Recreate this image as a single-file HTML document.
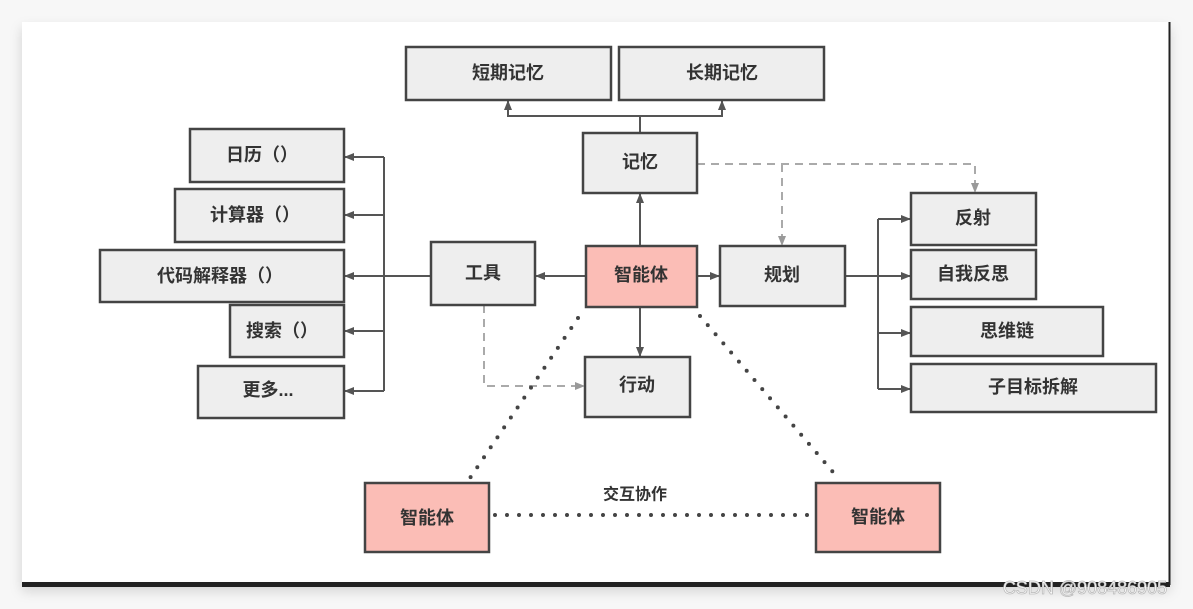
<!DOCTYPE html>
<html><head><meta charset="utf-8"><style>
html,body{margin:0;padding:0;background:#f7f7f7;}
svg{display:block;}
text{font-family:"Liberation Sans","Noto Sans CJK SC",sans-serif;font-size:18px;fill:#333;font-weight:bold;text-anchor:middle;dominant-baseline:central;}
</style></head><body>
<svg width="1193" height="609" viewBox="0 0 1193 609" xmlns="http://www.w3.org/2000/svg">
<defs>
<marker id="a" markerWidth="10" markerHeight="10" refX="9" refY="5" orient="auto" markerUnits="userSpaceOnUse"><path d="M0,1 L10,5 L0,9 z" fill="#555"/></marker>
<marker id="g" markerWidth="10" markerHeight="10" refX="9" refY="5" orient="auto" markerUnits="userSpaceOnUse"><path d="M0,1 L10,5 L0,9 z" fill="#999"/></marker>
<filter id="sh" x="-5%" y="-5%" width="110%" height="115%"><feDropShadow dx="0" dy="6" stdDeviation="6" flood-opacity="0.15"/></filter>
</defs>
<rect x="22" y="22" width="1148" height="563" fill="#fff" filter="url(#sh)"/>
<line x1="1169.5" y1="22" x2="1169.5" y2="585" stroke="#222" stroke-width="2"/>
<rect x="22" y="582" width="1148" height="5" fill="#222"/>
<g stroke="#555" stroke-width="2" fill="none">
<polyline points="640,133 640,116 508,116 508,101" marker-end="url(#a)"/>
<polyline points="640,116 722,116 722,101" marker-end="url(#a)"/>
<line x1="640" y1="246" x2="640" y2="194" marker-end="url(#a)"/>
<line x1="640" y1="307" x2="640" y2="356" marker-end="url(#a)"/>
<line x1="586" y1="276" x2="536" y2="276" marker-end="url(#a)"/>
<line x1="697" y1="276" x2="719" y2="276" marker-end="url(#a)"/>
<line x1="431" y1="276" x2="384" y2="276"/>
<line x1="384" y1="157" x2="384" y2="391"/>
<line x1="384" y1="157" x2="345" y2="157" marker-end="url(#a)"/>
<line x1="384" y1="215" x2="345" y2="215" marker-end="url(#a)"/>
<line x1="384" y1="276" x2="345" y2="276" marker-end="url(#a)"/>
<line x1="384" y1="331" x2="345" y2="331" marker-end="url(#a)"/>
<line x1="384" y1="391" x2="345" y2="391" marker-end="url(#a)"/>
<line x1="845" y1="276" x2="878" y2="276"/>
<line x1="878" y1="219" x2="878" y2="389"/>
<line x1="878" y1="219" x2="910" y2="219" marker-end="url(#a)"/>
<line x1="878" y1="276" x2="910" y2="276" marker-end="url(#a)"/>
<line x1="878" y1="333" x2="910" y2="333" marker-end="url(#a)"/>
<line x1="878" y1="389" x2="910" y2="389" marker-end="url(#a)"/>
</g>
<g stroke="#aaa" stroke-width="2" fill="none" stroke-dasharray="8,6">
<polyline points="697,164 975,164 975,192" marker-end="url(#g)"/>
<polyline points="782,164 782,245" marker-end="url(#g)"/>
<polyline points="484,305 484,386 584,386" marker-end="url(#g)"/>
</g>
<g stroke="#444" stroke-width="4" stroke-linecap="round" stroke-dasharray="0,12" fill="none">
<line x1="578" y1="318" x2="470" y2="478"/>
<line x1="700" y1="316" x2="838" y2="478"/>
<line x1="495" y1="515" x2="810" y2="515"/>
</g>
<g stroke="#444" stroke-width="2.5" fill="#eee">
<rect x="406" y="47" width="205" height="53"/>
<rect x="619" y="47" width="205" height="53"/>
<rect x="583" y="133" width="114" height="60"/>
<rect x="190" y="129" width="154" height="53"/>
<rect x="175" y="189" width="169" height="53"/>
<rect x="100" y="250" width="244" height="52"/>
<rect x="230" y="305" width="114" height="52"/>
<rect x="198" y="366" width="146" height="52"/>
<rect x="431" y="242" width="104" height="63"/>
<rect x="720" y="246" width="125" height="60"/>
<rect x="911" y="193" width="125" height="52"/>
<rect x="911" y="250" width="125" height="49"/>
<rect x="911" y="307" width="192" height="49"/>
<rect x="911" y="364" width="245" height="48"/>
<rect x="585" y="357" width="105" height="60"/>
<rect x="586" y="246" width="111" height="61" fill="#fbbdb6"/>
<rect x="365" y="483" width="124" height="69" fill="#fbbdb6"/>
<rect x="816" y="483" width="124" height="69" fill="#fbbdb6"/>
</g>
<text x="508" y="73">短期记忆</text>
<text x="722" y="73">长期记忆</text>
<text x="640" y="162">记忆</text>
<text x="262" y="155">日历（）</text>
<text x="255" y="215">计算器（）</text>
<text x="220" y="276">代码解释器（）</text>
<text x="282" y="331">搜索（）</text>
<text x="268" y="390">更多...</text>
<text x="483" y="273">工具</text>
<text x="641" y="275">智能体</text>
<text x="782" y="275">规划</text>
<text x="973" y="218">反射</text>
<text x="973" y="274">自我反思</text>
<text x="1007" y="331">思维链</text>
<text x="1033" y="387">子目标拆解</text>
<text x="637" y="385">行动</text>
<text x="427" y="518">智能体</text>
<text x="878" y="517">智能体</text>
<text x="635" y="495" style="font-size:16px">交互协作</text>
<text x="1085" y="588" style="font-size:18px;font-weight:normal;fill:#fff;stroke:#bbb;stroke-width:0.8">CSDN @908486905</text>
</svg>
</body></html>
